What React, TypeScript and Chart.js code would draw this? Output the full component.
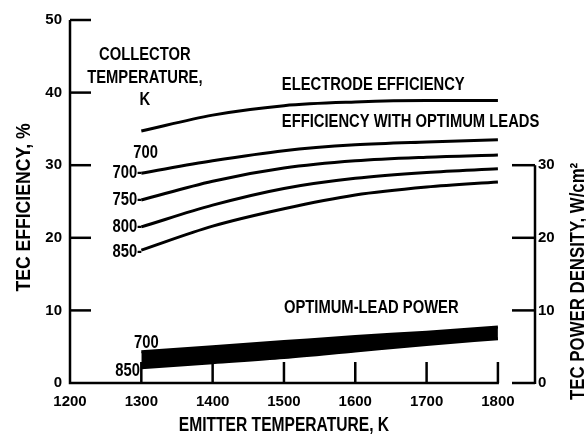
import { useEffect, useRef } from "react";
import { Chart, registerables } from "chart.js";

Chart.register(...registerables);

// ---- data ----
const emitterTemps = [1300, 1400, 1500, 1600, 1700, 1800];
const electrodeEff700 = [34.7, 36.9, 38.2, 38.7, 38.9, 38.9];
const leadEff700 = [28.9, 30.6, 32.0, 32.8, 33.2, 33.5];
const leadEff750 = [25.2, 27.8, 29.6, 30.6, 31.1, 31.4];
const leadEff800 = [21.5, 24.5, 26.8, 28.2, 29.0, 29.5];
const leadEff850 = [18.3, 21.6, 24.0, 25.9, 27.0, 27.7];
const leadPower700 = [4.3, 5.0, 5.7, 6.4, 7.0, 7.7];
const leadPower850 = [2.1, 2.8, 3.5, 4.4, 5.3, 6.1];

const xTicks = [1200, 1300, 1400, 1500, 1600, 1700, 1800];
const effTicks = [0, 10, 20, 30, 40, 50];
const powerTicks = [0, 10, 20, 30];

const xTitle = "EMITTER TEMPERATURE, K";
const yTitle = "TEC EFFICIENCY, %";
const y2Title = "TEC POWER DENSITY, W/cm\u00B2";

// text notes placed in data coordinates (emitter temperature, efficiency)
const noteTexts = [
  "COLLECTOR",
  "TEMPERATURE,",
  "K",
  "ELECTRODE EFFICIENCY",
  "EFFICIENCY WITH OPTIMUM LEADS",
  "OPTIMUM-LEAD POWER",
  "700",
  "700-",
  "750-",
  "800-",
  "850-",
  "700",
  "850",
];
const noteX = [1305, 1305, 1305, 1497, 1497, 1500, 1306, 1301, 1301, 1301, 1301, 1307, 1298];
const noteY = [45.2, 42.0, 39.0, 41.0, 36.0, 10.3, 31.7, 28.9, 25.2, 21.5, 18.0, 5.5, 1.65];
const noteAlign = ["center", "center", "center", "left", "left", "left", "center", "right", "right", "right", "right", "center", "right"];

const FONT = '"Liberation Sans", Arial, sans-serif';

const toPts = (ys: number[]) => emitterTemps.map((x, i) => ({ x, y: ys[i] }));

function narrowText(ctx: any, text: string, x: number, y: number, align: string, size: number, sx: number, rot = 0) {
  ctx.save();
  ctx.translate(x, y);
  if (rot) ctx.rotate(rot);
  ctx.scale(sx, 1);
  ctx.font = `bold ${size}px ${FONT}`;
  ctx.textAlign = align;
  ctx.textBaseline = "middle";
  ctx.fillText(text, 0, 0);
  ctx.restore();
}

const axesPlugin = {
  id: "axesAndNotes",
  afterDraw(chart: any) {
    const ctx = chart.ctx;
    const xs = chart.scales.x;
    const ys = chart.scales.y;
    const y2s = chart.scales.y2;
    ctx.save();
    ctx.strokeStyle = "#000";
    ctx.fillStyle = "#000";
    ctx.lineWidth = 2.5;
    ctx.lineCap = "butt";

    const x0 = xs.getPixelForValue(1200);
    const x1 = xs.getPixelForValue(1800);
    const yTop = ys.getPixelForValue(50);
    const yBot = ys.getPixelForValue(0);

    // left + bottom axis
    ctx.beginPath();
    ctx.moveTo(x0, yTop);
    ctx.lineTo(x0, yBot);
    ctx.lineTo(x1 + 1, yBot);
    ctx.stroke();

    // left inward ticks
    effTicks.forEach((v) => {
      if (v === 0) return;
      const p = ys.getPixelForValue(v);
      ctx.beginPath();
      ctx.moveTo(x0, p);
      ctx.lineTo(x0 + 21, p);
      ctx.stroke();
    });
    // bottom inward ticks
    xTicks.forEach((v) => {
      if (v === 1200) return;
      const p = xs.getPixelForValue(v);
      ctx.beginPath();
      ctx.moveTo(p, yBot);
      ctx.lineTo(p, yBot - 21);
      ctx.stroke();
    });
    // right axis
    const xr = y2s.left;
    ctx.beginPath();
    ctx.moveTo(xr, y2s.getPixelForValue(0) + 1);
    ctx.lineTo(xr, y2s.getPixelForValue(30));
    ctx.stroke();
    powerTicks.forEach((v) => {
      const p = y2s.getPixelForValue(v);
      ctx.beginPath();
      ctx.moveTo(xr - 23, p);
      ctx.lineTo(xr, p);
      ctx.stroke();
    });

    // titles
    narrowText(ctx, xTitle, (x0 + x1) / 2, yBot + 42, "center", 20, 0.78);
    narrowText(ctx, yTitle, 24, (yTop + yBot) / 2 + 6, "center", 20, 0.88, -Math.PI / 2);
    narrowText(ctx, y2Title, 578, y2s.getPixelForValue(14), "center", 20, 0.84, -Math.PI / 2);

    // notes
    noteTexts.forEach((t, i) => {
      narrowText(ctx, t, xs.getPixelForValue(noteX[i]), ys.getPixelForValue(noteY[i]), noteAlign[i], 18, 0.82);
    });
    ctx.restore();
  },
};

export default function App() {
  const ref = useRef<HTMLCanvasElement>(null);
  useEffect(() => {
    if (!ref.current) return;
    const line = (data: number[], axis: string, extra: any = {}) => ({
      data: toPts(data),
      yAxisID: axis,
      borderColor: "#000",
      borderWidth: 3,
      pointRadius: 0,
      cubicInterpolationMode: "monotone",
      fill: false,
      ...extra,
    });
    const tickFont = { family: FONT, size: 15, weight: "bold" };
    const plain = (v: any) => String(v);
    const chart = new Chart(ref.current, {
      type: "line",
      data: {
        datasets: [
          line(electrodeEff700, "y"),
          line(leadEff700, "y"),
          line(leadEff750, "y"),
          line(leadEff800, "y"),
          line(leadEff850, "y"),
          line(leadPower700, "y2", { fill: "+1", backgroundColor: "#000" }),
          line(leadPower850, "y2"),
        ] as any,
      },
      options: {
        animation: false,
        responsive: false,
        devicePixelRatio: 1,
        layout: { padding: { top: 20, left: 0, right: 0, bottom: 0 } },
        plugins: { legend: { display: false }, tooltip: { enabled: false } },
        scales: {
          x: {
            type: "linear",
            min: 1200,
            max: 1852,
            afterBuildTicks: (s: any) => {
              s.ticks = xTicks.map((value) => ({ value }));
            },
            afterFit: (s: any) => {
              s.height = 52;
            },
            grid: { display: false, drawTicks: false },
            border: { display: false },
            ticks: { font: tickFont, color: "#000", padding: 10, maxRotation: 0, autoSkip: false, callback: plain },
          },
          y: {
            position: "left",
            min: 0,
            max: 50,
            afterBuildTicks: (s: any) => {
              s.ticks = effTicks.map((value) => ({ value }));
            },
            afterFit: (s: any) => {
              s.width = 70;
            },
            grid: { display: false, drawTicks: false },
            border: { display: false },
            ticks: { font: tickFont, color: "#000", padding: 8, callback: plain },
          },
          y2: {
            position: "right",
            min: 0,
            max: 50,
            afterBuildTicks: (s: any) => {
              s.ticks = powerTicks.map((value) => ({ value }));
            },
            afterFit: (s: any) => {
              s.width = 51;
            },
            grid: { display: false, drawTicks: false },
            border: { display: false },
            ticks: { font: tickFont, color: "#000", padding: 3, callback: plain },
          },
        },
      } as any,
      plugins: [axesPlugin],
    });
    return () => chart.destroy();
  }, []);
  return (
    <div style={{ position: "absolute", left: 0, top: 0, width: 586, height: 435, background: "#fff" }}>
      <canvas ref={ref} width={586} height={435} />
    </div>
  );
}
